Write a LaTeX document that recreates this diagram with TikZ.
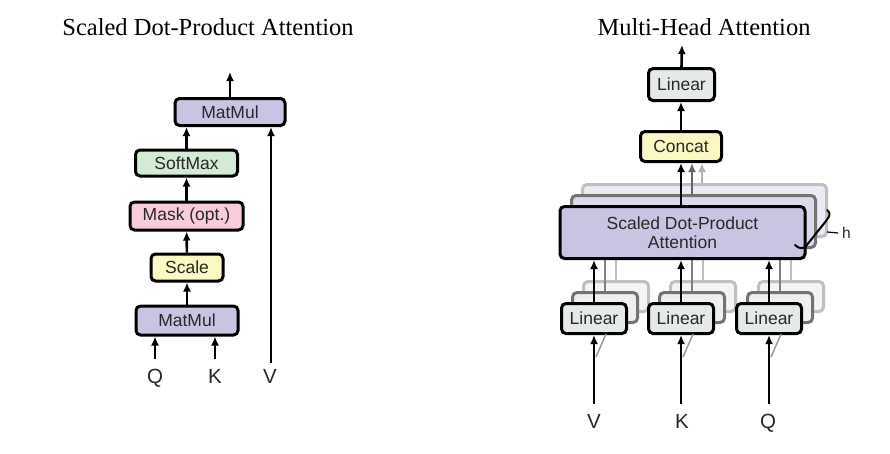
\documentclass[tikz,border=0pt]{standalone}
\usepackage{fontspec}
\setmainfont{Liberation Serif}
\setsansfont{Liberation Sans}
\usetikzlibrary{arrows.meta}
\definecolor{cpurple}{RGB}{202,195,225}
\definecolor{cgreen}{RGB}{211,234,213}
\definecolor{cpink}{RGB}{248,204,220}
\definecolor{cyellow}{RGB}{251,248,196}
\definecolor{cgray}{RGB}{229,233,231}
\definecolor{ctext}{RGB}{40,40,40}
\begin{document}
\begin{tikzpicture}[x=1pt,y=-1pt,
  box/.style={draw=black, line width=3pt, rounded corners=4.5pt, inner sep=0pt,
    font=\sffamily\fontsize{17.5}{20}\selectfont, text=ctext, align=center},
  boxmid/.style={box, draw=black!55},
  boxback/.style={box, draw=black!25},
  arr/.style={-{Latex[length=9pt,width=8pt]}, line width=2.6pt},
  plainline/.style={line width=2.6pt},
  title/.style={font=\fontsize{24.5}{28}\selectfont, anchor=base},
  lbl/.style={font=\sffamily\fontsize{20.5}{22}\selectfont, text=ctext, inner sep=0pt, anchor=base},
]
\useasboundingbox (0,0) rectangle (890,453);

% ---------------- Left: Scaled Dot-Product Attention ----------------
\node[title] (t1) at (208,35) {Scaled Dot-Product Attention};

\node[box, fill=cpurple, minimum width=110pt, minimum height=27pt] (mm2) at (230,112) {MatMul};
\node[box, fill=cgreen, minimum width=102pt, minimum height=26pt] (sm) at (186.5,163) {SoftMax};
\node[box, fill=cpink, minimum width=113pt, minimum height=28pt] (mask) at (186.5,216) {Mask (opt.)};
\node[box, fill=cyellow, minimum width=72pt, minimum height=27pt] (scale) at (187,267.5) {Scale};
\node[box, fill=cpurple, minimum width=102pt, minimum height=29pt] (mm1) at (187,320.5) {MatMul};

\node[lbl] (q1) at (155,383) {Q};
\node[lbl] (k1) at (215,383) {K};
\node[lbl] (v1) at (270,383) {V};
\coordinate (q1s) at (155,359);
\coordinate (k1s) at (215,359);
\coordinate (v1s) at (271,363);
\coordinate (out1) at (230,72);

\draw[arr] (q1s) -- (q1s |- mm1.south);
\draw[arr] (k1s) -- (k1s |- mm1.south);
\draw[arr] (mm1) -- (scale);
\draw[arr] (scale) -- (mask);
\draw[arr] (mask) -- (sm);
\draw[arr] (sm.north) -- (sm.north |- mm2.south);
\draw[arr] (v1s) -- (v1s |- mm2.south);
\draw[arr] (mm2.north) -- (out1);

% ---------------- Right: Multi-Head Attention ----------------
\node[title] (t2) at (704,35) {Multi-Head Attention};

% back layers (3rd)
\node[boxback, fill=cpurple!35!white, minimum width=244pt, minimum height=52pt] (att3) at (704.5,210.5) {};
\node[boxback, fill=cgray!45!white, minimum width=65pt, minimum height=30pt] (lv3) at (616,296.5) {};
\node[boxback, fill=cgray!45!white, minimum width=65pt, minimum height=30pt] (lk3) at (703,296.5) {};
\node[boxback, fill=cgray!45!white, minimum width=65pt, minimum height=30pt] (lq3) at (791,296.5) {};
% middle layers (2nd)
\node[boxmid, fill=cpurple!65!white, minimum width=244pt, minimum height=52pt] (att2) at (693.5,221.5) {};
\node[boxmid, fill=cgray!70!white, minimum width=65pt, minimum height=30pt] (lv2) at (605,307.5) {};
\node[boxmid, fill=cgray!70!white, minimum width=65pt, minimum height=30pt] (lk2) at (692,307.5) {};
\node[boxmid, fill=cgray!70!white, minimum width=65pt, minimum height=30pt] (lq2) at (780,307.5) {};

% gray connectors of back layers
\draw[plainline, black!25] (lv3.north) -- (lv3.north |- att3.south);
\draw[plainline, black!25] (lk3.north) -- (lk3.north |- att3.south);
\draw[plainline, black!25] (lq3.north) -- (lq3.north |- att3.south);
\draw[plainline, black!50] (lv2.north) -- (lv2.north |- att2.south);
\draw[plainline, black!50] (lk2.north) -- (lk2.north |- att2.south);
\draw[plainline, black!50] (lq2.north) -- (lq2.north |- att2.south);

% front layer
\node[box, fill=cpurple, minimum width=245pt, minimum height=52pt] (att) at (682.5,232.5) {Scaled Dot-Product\\[-1pt]Attention};
\node[box, fill=cgray, minimum width=65pt, minimum height=30pt] (lv) at (594,318.5) {Linear};
\node[box, fill=cgray, minimum width=65pt, minimum height=30pt] (lk) at (681,318.5) {Linear};
\node[box, fill=cgray, minimum width=65pt, minimum height=30pt] (lq) at (769,318.5) {Linear};

\node[box, fill=cyellow, minimum width=81pt, minimum height=30pt] (concat) at (681,146.5) {Concat};
\node[box, fill=cgray, minimum width=66pt, minimum height=32pt] (lin) at (681.5,84.5) {Linear};
\coordinate (out2) at (682,45);

\draw[arr] (lv.north) -- (lv.north |- att.south);
\draw[arr] (lk.north) -- (lk.north |- att.south);
\draw[arr] (lq.north) -- (lq.north |- att.south);

\draw[arr, black!30] ([xshift=21pt]concat.south |- att3.north) -- ([xshift=21pt]concat.south);
\draw[arr, black!60] ([xshift=11pt]concat.south |- att2.north) -- ([xshift=11pt]concat.south);
\draw[arr] (concat.south |- att.north) -- (concat.south);
\draw[arr] (concat.north) -- (concat.north |- lin.south);
\draw[arr] (lin.north) -- (out2);

% inputs
\node[lbl] (vv) at (594,428) {V};
\node[lbl] (kk) at (682,428) {K};
\node[lbl] (qq) at (768,428) {Q};
\coordinate (vin) at (594,404);
\coordinate (kin) at (681,404);
\coordinate (qin) at (769,404);
\draw[line width=1.5pt, black!40] (596,357) -- (606,334);
\draw[line width=1.5pt, black!40] (683,357) -- (693,334);
\draw[line width=1.5pt, black!40] (771,357) -- (781,334);
\draw[arr] (vin) -- (vin |- lv.south);
\draw[arr] (kin) -- (kin |- lk.south);
\draw[arr] (qin) -- (qin |- lq.south);

% h brace
\draw[line width=2pt, line cap=round, line join=round] (795,245) .. controls (799,249) and (803,249) .. (806,246)
  -- (826,221) .. controls (830,216) and (831,213) .. (827,210);
\coordinate (hb) at (827,232);
\node[font=\sffamily\fontsize{15.5}{18}\selectfont, text=ctext, anchor=west, inner sep=0pt] (hh) at (842,233) {h};
\draw[line width=1.2pt] (hb) -- ([xshift=-4pt]hh.west);
\end{tikzpicture}
\end{document}
